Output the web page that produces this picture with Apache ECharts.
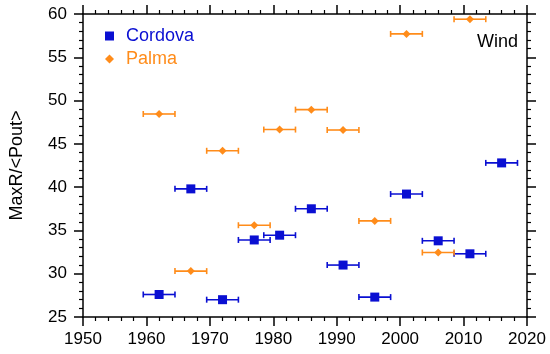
<!DOCTYPE html>
<html>
<head>
<meta charset="utf-8">
<script src="https://cdn.jsdelivr.net/npm/echarts@6/dist/echarts.min.js"></script>
<style>
html,body{margin:0;padding:0;background:#fff;}
#chart{width:550px;height:354px;}
</style>
</head>
<body>
<div id="chart"></div>
<script>
var yearsCordova = [1962, 1967, 1972, 1977, 1981, 1986, 1991, 1996, 2001, 2006, 2011, 2016];
var cordova = [27.6, 39.8, 27.0, 33.9, 34.45, 37.5, 31.0, 27.3, 39.2, 33.8, 32.3, 42.8];
var yearsPalma = [1962, 1967, 1972, 1977, 1981, 1986, 1991, 1996, 2001, 2006, 2011];
var palma = [48.45, 30.3, 44.2, 35.6, 46.65, 48.95, 46.6, 36.1, 57.7, 32.45, 59.4];
var xErr = 2.5;
var xTicks = [1950, 1960, 1970, 1980, 1990, 2000, 2010, 2020];
var yTicks = [25, 30, 35, 40, 45, 50, 55, 60];

var BLUE = '#0a0fd2';
var ORANGE = '#ff8c1a';
var FONT = 'Liberation Sans, Arial, sans-serif';

function pts(xs, ys) { return xs.map(function (x, i) { return [x, ys[i]]; }); }
function errData(xs, ys) { return xs.map(function (x, i) { return [x - xErr, x + xErr, ys[i]]; }); }

function errRender(color) {
  return function (params, api) {
    var y = api.value(2);
    var a = api.coord([api.value(0), y]);
    var b = api.coord([api.value(1), y]);
    var cap = 3;
    var style = { stroke: color, lineWidth: 1.6, fill: null };
    return {
      type: 'group',
      children: [
        { type: 'line', shape: { x1: a[0], y1: a[1], x2: b[0], y2: b[1] }, style: style },
        { type: 'line', shape: { x1: a[0], y1: a[1] - cap, x2: a[0], y2: a[1] + cap }, style: style },
        { type: 'line', shape: { x1: b[0], y1: b[1] - cap, x2: b[0], y2: b[1] + cap }, style: style }
      ]
    };
  };
}

var axisCommon = {
  axisLine: { show: true, onZero: false, lineStyle: { color: '#000', width: 1.5 } },
  axisTick: { show: true, inside: false, length: 9, lineStyle: { color: '#000', width: 1.5 } },
  minorTick: { show: true, splitNumber: 5, length: 4, lineStyle: { color: '#000', width: 1.2 } },
  splitLine: { show: false }
};

var chart = echarts.init(document.getElementById('chart'), null, { renderer: 'canvas' });
chart.setOption({
  animation: false,
  backgroundColor: '#fff',
  grid: { left: 80, right: 23, top: 14, bottom: 37 },
  legend: {
    orient: 'vertical',
    left: 100,
    top: 22,
    itemWidth: 9,
    itemHeight: 9,
    itemGap: 5,
    textStyle: { fontFamily: FONT, fontSize: 18, padding: [0, 0, 0, 7] },
    data: [
      { name: 'Cordova', icon: 'rect', textStyle: { color: BLUE } },
      { name: 'Palma', icon: 'diamond', textStyle: { color: ORANGE } }
    ]
  },
  graphic: [{
    type: 'text', right: 32, top: 33,
    style: { text: 'Wind', fontFamily: FONT, fontSize: 18, fill: '#000' }
  }],
  xAxis: [
    Object.assign({}, axisCommon, {
      type: 'value', min: 1950, max: 2020, interval: 10, position: 'bottom',
      axisLabel: { margin: 14, color: '#000', fontFamily: FONT, fontSize: 17, formatter: function (v) { return String(v); } }
    }),
    Object.assign({}, axisCommon, {
      type: 'value', min: 1950, max: 2020, interval: 10, position: 'top',
      axisLabel: { show: false }
    })
  ],
  yAxis: [
    Object.assign({}, axisCommon, {
      type: 'value', min: 25, max: 60, interval: 5, position: 'left',
      name: 'MaxR/<Pout>', nameLocation: 'middle', nameGap: 57, nameRotate: 90,
      nameTextStyle: { color: '#000', fontFamily: FONT, fontSize: 18 },
      axisLabel: { margin: 16, color: '#000', fontFamily: FONT, fontSize: 17 }
    }),
    Object.assign({}, axisCommon, {
      type: 'value', min: 25, max: 60, interval: 5, position: 'right',
      axisLabel: { show: false }
    })
  ],
  series: [
    { type: 'custom', name: 'CordovaErr', data: errData(yearsCordova, cordova), renderItem: errRender(BLUE), encode: { x: [0, 1], y: 2 }, z: 2 },
    { type: 'custom', name: 'PalmaErr', data: errData(yearsPalma, palma), renderItem: errRender(ORANGE), encode: { x: [0, 1], y: 2 }, z: 2 },
    { type: 'scatter', name: 'Cordova', data: pts(yearsCordova, cordova), symbol: 'rect', symbolSize: 9, itemStyle: { color: BLUE, opacity: 1 }, z: 3 },
    { type: 'scatter', name: 'Palma', data: pts(yearsPalma, palma), symbol: 'diamond', symbolSize: 8, itemStyle: { color: ORANGE, opacity: 1 }, z: 3 }
  ]
});
</script>
</body>
</html>
